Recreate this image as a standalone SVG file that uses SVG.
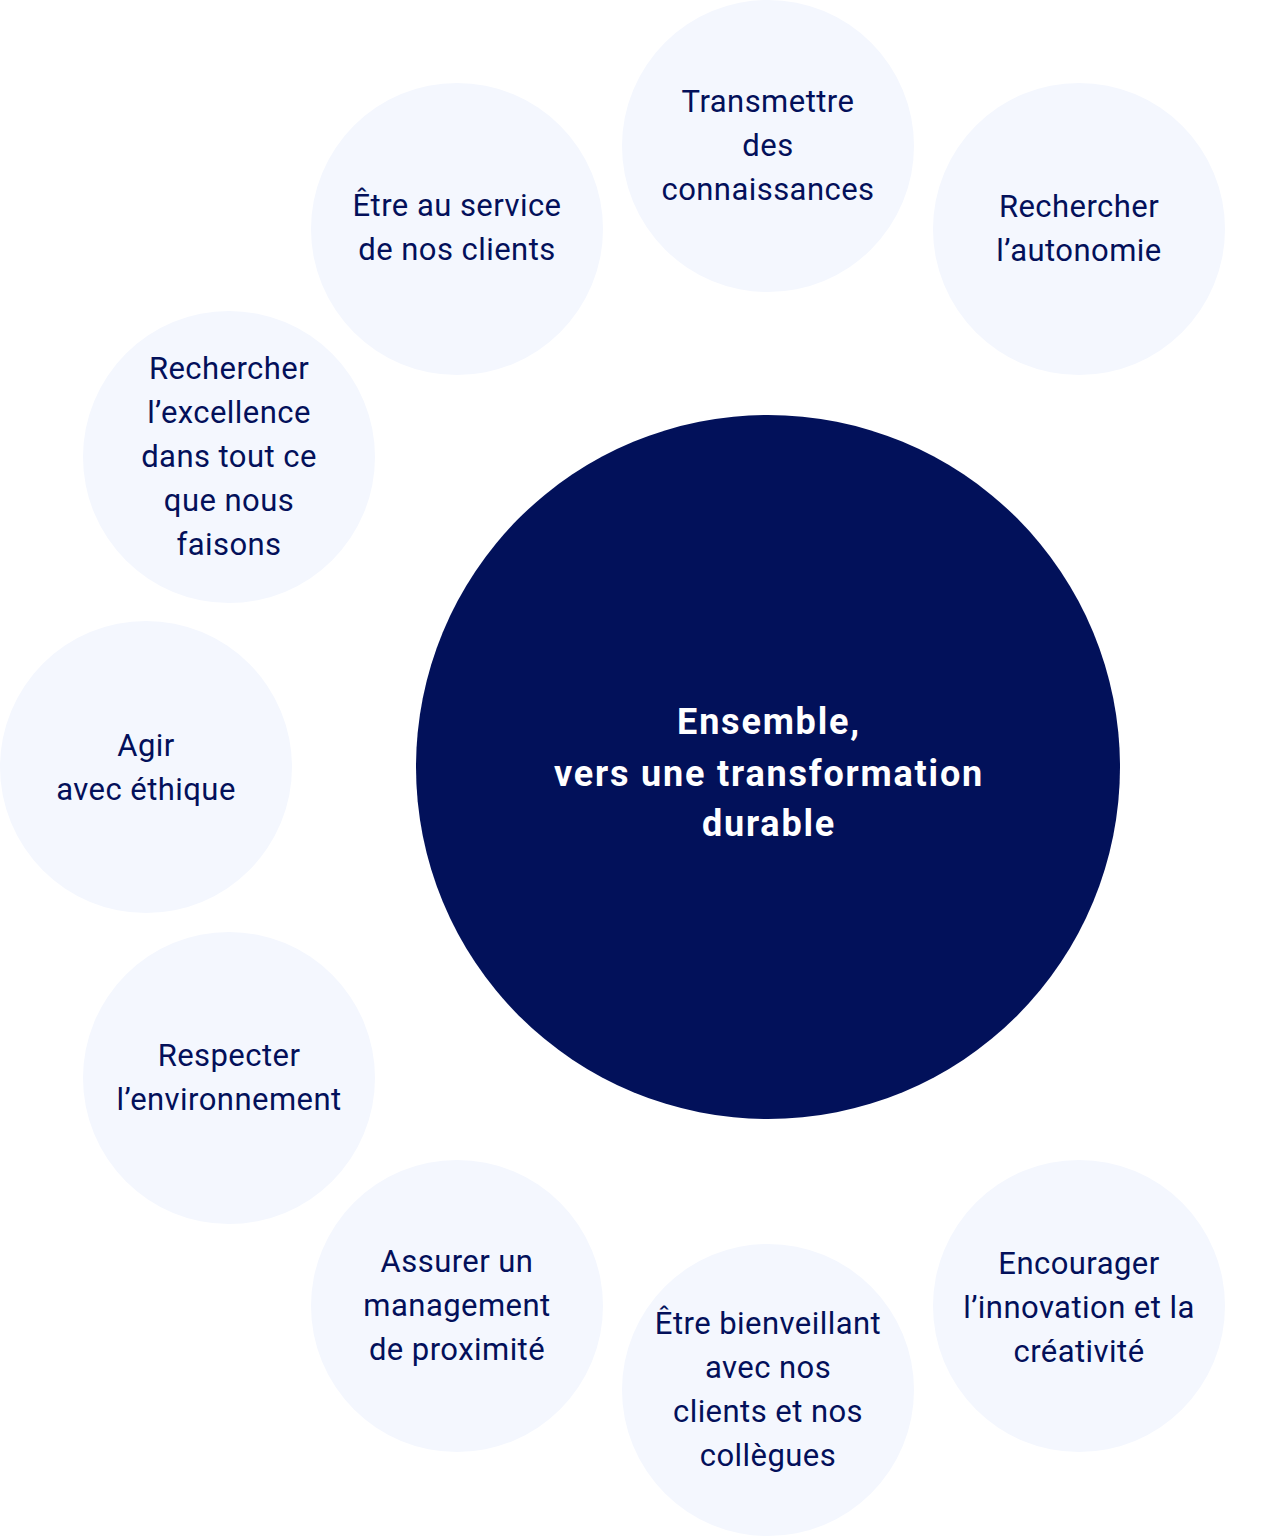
<svg xmlns="http://www.w3.org/2000/svg" width="1279" height="1536" viewBox="0 0 1279 1536">
<style>
.b{fill:#F4F7FE}
.t{font-family:Roboto,"Liberation Sans",sans-serif;font-size:31px;letter-spacing:0.45px;fill:#03105A;text-anchor:middle}
.c{font-family:Roboto,"Liberation Sans",sans-serif;font-size:36px;letter-spacing:1.8px;font-weight:700;fill:#FFFFFF;text-anchor:middle}
</style>
<rect width="1279" height="1536" fill="#FFFFFF"/>
<g id="connectors"></g>
<g id="center">
<circle cx="768" cy="767" r="352" fill="#02115A"/>
<text class="c" x="769" y="734">Ensemble,</text>
<text class="c" x="769" y="786">vers une transformation</text>
<text class="c" x="769" y="836">durable</text>
</g>
<g id="transmettre">
<circle class="b" cx="768" cy="146" r="146"/>
<text class="t" x="768" y="112">Transmettre</text>
<text class="t" x="768" y="156">des</text>
<text class="t" x="768" y="200">connaissances</text>
</g>
<g id="service">
<circle class="b" cx="457" cy="229" r="146"/>
<text class="t" x="457" y="216">Être au service</text>
<text class="t" x="457" y="260">de nos clients</text>
</g>
<g id="autonomie">
<circle class="b" cx="1079" cy="229" r="146"/>
<text class="t" x="1079" y="217">Rechercher</text>
<text class="t" x="1079" y="261">l’autonomie</text>
</g>
<g id="excellence">
<circle class="b" cx="229" cy="457" r="146"/>
<text class="t" x="229" y="379">Rechercher</text>
<text class="t" x="229" y="423">l’excellence</text>
<text class="t" x="229" y="467">dans tout ce</text>
<text class="t" x="229" y="511">que nous</text>
<text class="t" x="229" y="555">faisons</text>
</g>
<g id="ethique">
<circle class="b" cx="146" cy="767" r="146"/>
<text class="t" x="146" y="756">Agir</text>
<text class="t" x="146" y="800">avec éthique</text>
</g>
<g id="environnement">
<circle class="b" cx="229" cy="1078" r="146"/>
<text class="t" x="229" y="1066">Respecter</text>
<text class="t" x="229" y="1110">l’environnement</text>
</g>
<g id="management">
<circle class="b" cx="457" cy="1306" r="146"/>
<text class="t" x="457" y="1272">Assurer un</text>
<text class="t" x="457" y="1316">management</text>
<text class="t" x="457" y="1360">de proximité</text>
</g>
<g id="bienveillant">
<circle class="b" cx="768" cy="1390" r="146"/>
<text class="t" x="768" y="1334">Être bienveillant</text>
<text class="t" x="768" y="1378">avec nos</text>
<text class="t" x="768" y="1422">clients et nos</text>
<text class="t" x="768" y="1466">collègues</text>
</g>
<g id="innovation">
<circle class="b" cx="1079" cy="1306" r="146"/>
<text class="t" x="1079" y="1274">Encourager</text>
<text class="t" x="1079" y="1318">l’innovation et la</text>
<text class="t" x="1079" y="1362">créativité</text>
</g>
</svg>
